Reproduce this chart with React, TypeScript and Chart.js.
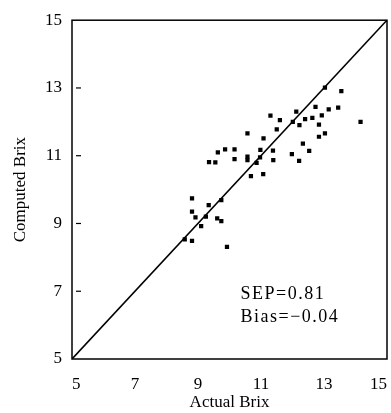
import React, { useEffect, useRef } from "react";
import { Chart, registerables } from "chart.js";

Chart.register(...registerables);

const actualBrix = [
  9.63, 9.86, 9.35, 9.55, 11.3, 11.6, 12.12, 12.4, 12.01, 12.22, 11.5, 10.57, 11.08,
  10.16, 10.16, 10.57, 10.57, 10.98, 10.97, 11.38, 11.39, 11.98, 12.21, 12.33, 10.86,
  13.03, 13.55, 12.73, 13.15, 13.45, 12.63, 12.93, 12.84, 14.16, 13.03, 12.84, 12.53,
  8.81, 9.34, 9.74, 8.81, 8.92, 9.25, 9.61, 9.74, 9.1, 8.58, 8.81, 9.92, 10.68, 11.07,
];
const computedBrix = [
  11.1, 11.19, 10.81, 10.8, 12.18, 12.05, 12.3, 12.08, 12.0, 11.9, 11.78, 11.66, 11.51,
  11.19, 10.9, 10.97, 10.87, 11.17, 10.95, 11.15, 10.87, 11.05, 10.85, 11.36, 10.79,
  13.01, 12.91, 12.44, 12.37, 12.42, 12.12, 12.19, 11.92, 12.0, 11.66, 11.56, 11.14,
  9.74, 9.54, 9.69, 9.35, 9.18, 9.2, 9.15, 9.07, 8.92, 8.53, 8.49, 8.31, 10.4, 10.46,
];
const identityLine = [5, 15];
const axisTicks = [5, 7, 9, 11, 13, 15];
const innerTickValues = [7, 9, 11, 13];
const statLines = ["SEP=0.81", "Bias=\u22120.04"];
const statPositions = [
  { x: 10.35, y: 6.92 },
  { x: 10.35, y: 6.24 },
];

const FONT = "'Liberation Serif', 'Times New Roman', serif";

const framePlugin = {
  id: "frame",
  afterDraw(chart: any) {
    const { ctx, chartArea, scales } = chart;
    ctx.save();
    ctx.strokeStyle = "#000";
    ctx.lineWidth = 1.5;
    ctx.strokeRect(chartArea.left, chartArea.top, chartArea.right - chartArea.left, chartArea.bottom - chartArea.top);
    ctx.lineWidth = 1.2;
    for (const v of innerTickValues) {
      const y = scales.y.getPixelForValue(v);
      ctx.beginPath();
      ctx.moveTo(chartArea.left + 4, y);
      ctx.lineTo(chartArea.left + 9, y);
      ctx.stroke();
    }
    ctx.fillStyle = "#000";
    ctx.font = `18px ${FONT}`;
    ctx.textBaseline = "middle";
    ctx.textAlign = "left";
    try { (ctx as any).letterSpacing = "1.5px"; } catch (e) {}
    statLines.forEach((t, i) => {
      const p = statPositions[i];
      ctx.fillText(t, scales.x.getPixelForValue(p.x), scales.y.getPixelForValue(p.y));
    });
    ctx.restore();
  },
};

export default function App() {
  const ref = useRef<HTMLCanvasElement>(null);
  useEffect(() => {
    if (!ref.current) return;
    const points = actualBrix.map((x, i) => ({ x, y: computedBrix[i] }));
    const chart = new Chart(ref.current, {
      type: "scatter",
      data: {
        datasets: [
          {
            type: "line",
            data: identityLine.map((v) => ({ x: v, y: v })),
            borderColor: "#000",
            borderWidth: 1.6,
            pointRadius: 0,
            fill: false,
          } as any,
          {
            data: points,
            pointStyle: "rect",
            pointRadius: 3,
            backgroundColor: "#000",
            borderColor: "#000",
            borderWidth: 0,
          },
        ],
      },
      options: {
        animation: false,
        responsive: false,
        devicePixelRatio: 1,
        layout: { padding: { top: 20, right: 1, left: 0, bottom: 0 } },
        plugins: { legend: { display: false }, tooltip: { enabled: false } },
        scales: {
          x: {
            type: "linear",
            min: 5,
            max: 15,
            afterBuildTicks: (s: any) => { s.ticks = axisTicks.map((v) => ({ value: v })); },
            afterFit: (s: any) => { s.height = 54; s.paddingLeft = 0; s.paddingRight = 0; },
            grid: { display: false, drawTicks: false },
            border: { display: false },
            ticks: { color: "#000", font: { family: FONT, size: 17 }, padding: 15, align: "inner", maxRotation: 0 },
            title: { display: true, text: "Actual Brix", color: "#000", font: { family: FONT, size: 17 }, padding: { top: 0, bottom: 0 } },
          },
          y: {
            type: "linear",
            min: 5,
            max: 15,
            afterBuildTicks: (s: any) => { s.ticks = axisTicks.map((v) => ({ value: v })); },
            afterFit: (s: any) => { s.width = 72; },
            grid: { display: false, drawTicks: false },
            border: { display: false },
            ticks: { color: "#000", font: { family: FONT, size: 17 }, padding: 10 },
            title: { display: true, text: "Computed Brix", color: "#000", font: { family: FONT, size: 17 }, padding: { top: 10, bottom: 0 } },
          },
        },
      },
      plugins: [framePlugin],
    });
    return () => chart.destroy();
  }, []);
  return (
    <div style={{ position: "fixed", left: 0, top: 0, width: 391, height: 413, background: "#fff" }}>
      <canvas ref={ref} width={391} height={413} style={{ width: 391, height: 413, display: "block" }} />
    </div>
  );
}
